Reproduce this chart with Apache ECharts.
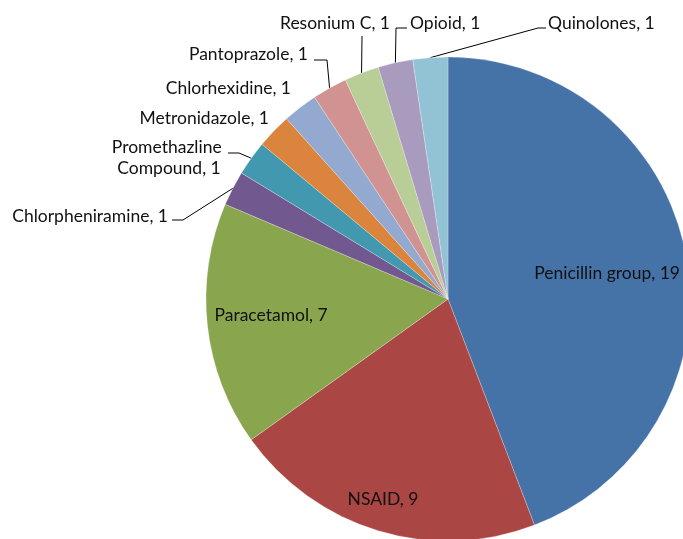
<!DOCTYPE html>
<html><head><meta charset="utf-8">
<script src="https://cdn.jsdelivr.net/npm/echarts@6/dist/echarts.min.js"></script>
<style>html,body{margin:0;padding:0;background:#fff}#c{width:683px;height:539px}</style>
</head><body><div id="c"></div>
<script>
// ---- data ----
const categories = ['Penicillin group','NSAID','Paracetamol','Chlorpheniramine','Promethazline Compound','Metronidazole','Chlorhexidine','Pantoprazole','Resonium C','Opioid','Quinolones'];
const values = [19, 9, 7, 1, 1, 1, 1, 1, 1, 1, 1];

// ---- style ----
const colors = ['#4572A7','#AA4643','#89A54E','#71588F','#4198AF','#DB843D','#93A9CF','#D19392','#B9CD96','#A99BBD','#92C3D4'];
const CX = 448, CY = 299, R = 242;
const FONT = 'Lato';
// inside labels: [radial fraction of radius, angle offset in degrees] from the slice mid-angle
const insideAt = {0: [0.666, 1.2], 1: [0.872, 1.2], 2: [0.734, 1.1]};
// outside labels (manually placed like the original): label anchor, alignment, leader bends
const outside = {
  3: {x: 168, y: 216, align: 'right', bends: [[183, 220], [172, 220]]},
  4: {x: 169, y: 158, align: 'center', bends: [[239, 153], [228, 153]]},
  5: {x: 269, y: 118, align: 'right', bends: null},
  6: {x: 291, y: 88, align: 'right', bends: null},
  7: {x: 308, y: 54, align: 'right', bends: [[327, 60], [314, 60]]},
  8: {x: 335, y: 23, align: 'center', bends: [[362, 36]]},
  9: {x: 410, y: 23, align: 'left', bends: [[396, 28], [407, 28]]},
  10: {x: 548, y: 23, align: 'left', bends: [[538, 28], [546, 28]]}
};

const total = values.reduce((a, b) => a + b, 0);
function midAngle(i) { // clockwise from top, radians
  let s = 0; for (let k = 0; k < i; k++) s += values[k];
  return (s + values[i] / 2) / total * 2 * Math.PI;
}

const data = categories.map((name, i) => {
  const item = {name, value: values[i], itemStyle: {color: colors[i]}};
  if (i in insideAt) {
    item.label = {position: 'inside'};
    item.labelLine = {show: false};
  } else {
    item.label = {position: 'outside'};
    if (i === 4) { item.label.width = 125; item.label.overflow = 'break'; }
    item.labelLine = {show: !!outside[i].bends};
  }
  return item;
});

const chart = echarts.init(document.getElementById('c'), null, {renderer: 'canvas'});
chart.setOption({
  animation: false,
  backgroundColor: '#fff',
  series: [{
    type: 'pie',
    center: [CX, CY],
    radius: [0, R],
    startAngle: 90,
    clockwise: true,
    avoidLabelOverlap: false,
    data,
    itemStyle: {borderColor: 'rgba(255,255,255,0.5)', borderWidth: 0.5},
    label: {
      show: true,
      formatter: '{b}, {c}',
      color: '#111',
      fontFamily: FONT,
      fontSize: 17.5,
      lineHeight: 21
    },
    labelLine: {show: true, lineStyle: {color: '#000', width: 1}},
    labelLayout: function (p) {
      const i = p.dataIndex;
      if (i in insideAt) {
        const a = midAngle(i) + insideAt[i][1] * Math.PI / 180, d = insideAt[i][0] * R;
        return {x: CX + d * Math.sin(a), y: CY - d * Math.cos(a), align: 'center', verticalAlign: 'middle'};
      }
      const o = outside[i];
      const res = {x: o.x, y: o.y, align: o.align, verticalAlign: 'middle'};
      if (o.bends) {
        const a = midAngle(i);
        const p0 = [CX + R * Math.sin(a), CY - R * Math.cos(a)];
        res.labelLinePoints = [p0].concat(o.bends);
      }
      return res;
    }
  }]
});
</script>
</body></html>
